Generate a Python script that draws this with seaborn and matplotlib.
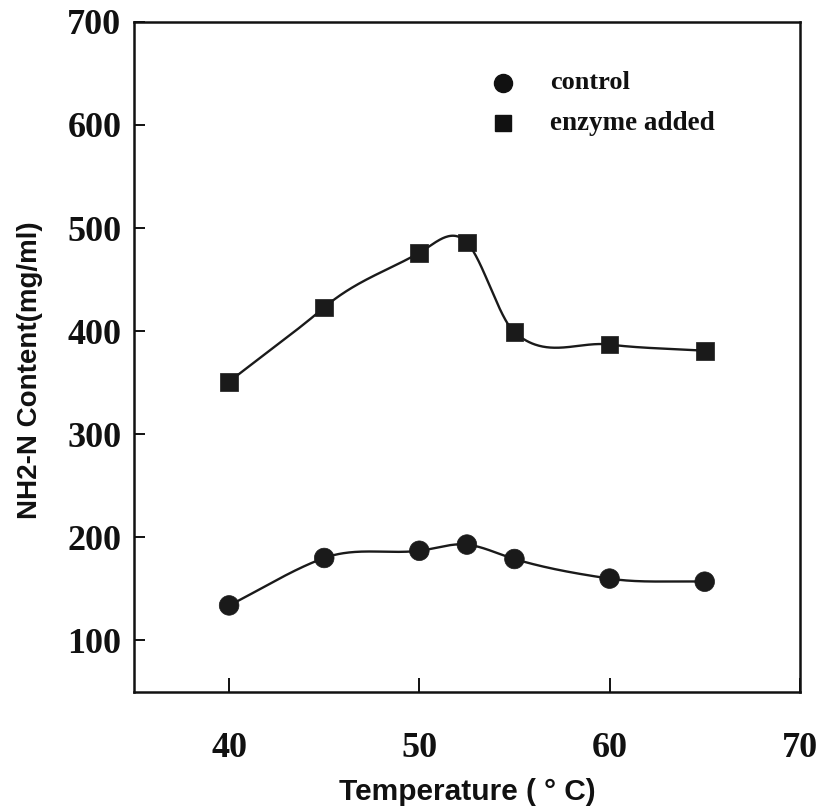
import numpy as np
import pandas as pd
import matplotlib
matplotlib.use("Agg")
import matplotlib.pyplot as plt
import seaborn as sns

# ---- data ----
temperature = [40, 45, 50, 52.5, 55, 60, 65]
control = [134, 180, 187, 193, 179, 160, 157]
enzyme_added = [351, 423, 476, 486, 399, 387, 381]
series_names = ["control", "enzyme added"]
x_ticks = [40, 50, 60, 70]
y_ticks = [100, 200, 300, 400, 500, 600, 700]


def cardinal_curve(x, y, xs, scale=1.25):
    """Smooth cubic Hermite curve through the points (cardinal spline)."""
    x = np.asarray(x, float)
    y = np.asarray(y, float)
    n = len(x)
    m = np.zeros(n)
    m[0] = (y[1] - y[0]) / (x[1] - x[0])
    m[-1] = (y[-1] - y[-2]) / (x[-1] - x[-2])
    m[1:-1] = scale * (y[2:] - y[:-2]) / (x[2:] - x[:-2])
    idx = np.clip(np.searchsorted(x, xs) - 1, 0, n - 2)
    h = x[idx + 1] - x[idx]
    t = (xs - x[idx]) / h
    h00 = 2 * t ** 3 - 3 * t ** 2 + 1
    h10 = t ** 3 - 2 * t ** 2 + t
    h01 = -2 * t ** 3 + 3 * t ** 2
    h11 = t ** 3 - t ** 2
    return h00 * y[idx] + h10 * h * m[idx] + h01 * y[idx + 1] + h11 * h * m[idx + 1]


pts = pd.DataFrame({
    "T": temperature * 2,
    "v": control + enzyme_added,
    "s": [series_names[0]] * len(temperature) + [series_names[1]] * len(temperature),
})
xs = np.linspace(temperature[0], temperature[-1], 500)
curves = pd.DataFrame({
    "T": np.concatenate([xs, xs]),
    "v": np.concatenate([cardinal_curve(temperature, control, xs),
                         cardinal_curve(temperature, enzyme_added, xs)]),
    "s": [series_names[0]] * len(xs) + [series_names[1]] * len(xs),
})

sns.set_theme(style="white")
plt.rcParams["font.family"] = ["Liberation Serif", "DejaVu Serif"]

fig = plt.figure(figsize=(8.22, 8.09), dpi=100)
ax = fig.add_axes([0.163, 0.1446, 0.81, 0.8284])

sns.lineplot(data=curves, x="T", y="v", units="s", estimator=None,
             color="#1a1a1a", lw=1.7, ax=ax, legend=False, sort=False)
sns.scatterplot(data=pts, x="T", y="v", style="s",
                markers={"control": "o", "enzyme added": "s"},
                size="s", sizes={"control": 200, "enzyme added": 165},
                color="#1a1a1a", edgecolor="#1a1a1a", linewidth=0.5,
                ax=ax, legend=False, zorder=5)

ax.set_xlim(35, 70)
ax.set_ylim(50, 700)
ax.set_xticks(x_ticks)
ax.set_yticks(y_ticks)
ax.tick_params(axis="x", direction="in", length=10, width=1.4, pad=29,
               labelsize=26, colors="#111111", top=False, bottom=True)
ax.tick_params(axis="y", direction="in", length=8, width=1.4, pad=9,
               labelsize=26, colors="#111111", left=True, right=False)
for lab in ax.get_xticklabels() + ax.get_yticklabels():
    lab.set_fontweight("bold")
for sp in ax.spines.values():
    sp.set_linewidth(1.8)
    sp.set_color("#111111")

sans = ["Liberation Sans", "DejaVu Sans"]
ax.set_xlabel("Temperature ( ° C)", family=sans, fontweight="bold", fontsize=21.5,
              color="#111111", labelpad=9)
ax.set_ylabel("NH2-N Content(mg/ml)", family=sans, fontweight="bold", fontsize=20,
              color="#111111")
ax.yaxis.set_label_coords(-0.136, 0.48)

# legend
ax.plot([0.554], [0.909], marker="o", ms=13, color="#111111",
        transform=ax.transAxes, clip_on=False)
ax.plot([0.554], [0.849], marker="s", ms=11.5, color="#111111",
        transform=ax.transAxes, clip_on=False)
ax.text(0.625, 0.909, series_names[0], transform=ax.transAxes, fontsize=19,
        fontweight="bold", va="center", ha="left", color="#111111")
ax.text(0.625, 0.849, series_names[1], transform=ax.transAxes, fontsize=19.5,
        fontweight="bold", va="center", ha="left", color="#111111")

fig.savefig("out.png", dpi=100, facecolor="white")
